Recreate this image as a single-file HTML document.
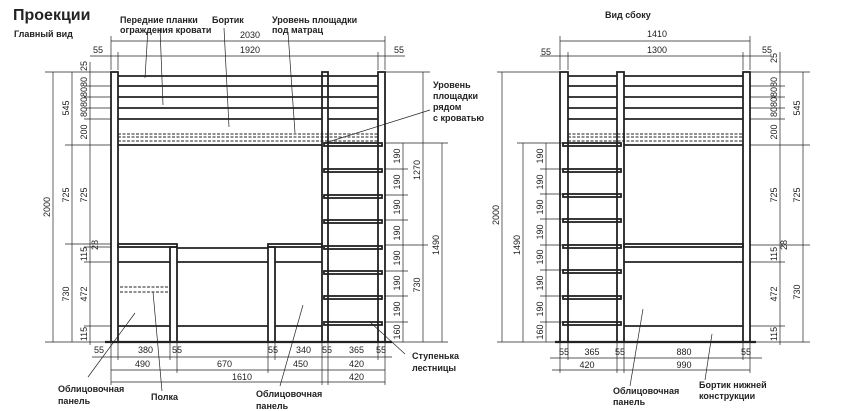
<!DOCTYPE html>
<html><head><meta charset="utf-8"><style>
html,body{margin:0;padding:0;background:#fff;width:850px;height:411px;overflow:hidden}
svg{display:block}
.l{font-family:"Liberation Sans","DejaVu Sans",sans-serif;font-weight:bold;font-size:9px;fill:#222}
.d{font-family:"Liberation Sans",sans-serif;font-size:9px;fill:#222}
</style></head><body>
<svg width="850" height="411" viewBox="0 0 850 411" xmlns="http://www.w3.org/2000/svg">
<g stroke="#222" fill="none">
<!-- ===== FRONT VIEW ===== -->
<g stroke-width="1.8">
<rect x="111" y="72" width="7" height="270"/>
<rect x="322" y="72" width="6" height="270"/>
<rect x="378" y="72" width="7" height="270"/>
<line x1="118" y1="76" x2="378" y2="76"/><line x1="118" y1="86" x2="378" y2="86"/>
<line x1="118" y1="97" x2="378" y2="97"/><line x1="118" y1="108" x2="378" y2="108"/>
<line x1="118" y1="119" x2="322" y2="119"/><line x1="328" y1="119" x2="378" y2="119"/>
<line x1="118" y1="145" x2="322" y2="145"/>
<line x1="105" y1="342" x2="392" y2="342" stroke-width="2.2"/>
<rect x="118" y="244" width="59" height="3"/>
<rect x="170" y="247" width="7" height="95"/>
<rect x="268" y="244" width="54" height="3"/>
<rect x="268" y="247" width="7" height="95"/>
<line x1="118" y1="262" x2="170" y2="262"/>
<line x1="177" y1="248" x2="268" y2="248"/><line x1="177" y1="262" x2="268" y2="262"/>
<line x1="275" y1="262" x2="322" y2="262"/>
<line x1="118" y1="326" x2="170" y2="326"/><line x1="177" y1="326" x2="268" y2="326"/><line x1="275" y1="326" x2="322" y2="326"/>
<rect x="324" y="143" width="58" height="3"/><rect x="324" y="169" width="58" height="3"/>
<rect x="324" y="195" width="58" height="3"/><rect x="324" y="220" width="58" height="3"/>
<rect x="324" y="246" width="58" height="3"/><rect x="324" y="271" width="58" height="3"/>
<rect x="324" y="296" width="58" height="3"/><rect x="324" y="322" width="58" height="3"/>
</g>
<g stroke-width="0.9" stroke-dasharray="3,1.5">
<line x1="118" y1="134" x2="378" y2="134"/><line x1="118" y1="137" x2="378" y2="137"/>
<line x1="118" y1="141" x2="378" y2="141"/>
<line x1="120" y1="287" x2="168" y2="287"/><line x1="120" y1="292" x2="168" y2="292"/>
</g>
<g stroke-width="0.7">
<line x1="111" y1="41" x2="385" y2="41"/><line x1="111" y1="36" x2="111" y2="70"/><line x1="385" y1="36" x2="385" y2="70"/>
<line x1="90" y1="56" x2="405" y2="56"/><line x1="118" y1="52" x2="118" y2="70"/><line x1="378" y1="52" x2="378" y2="70"/>
<line x1="45" y1="72" x2="111" y2="72"/><line x1="45" y1="342" x2="111" y2="342"/>
<line x1="53" y1="72" x2="53" y2="342"/>
<line x1="72" y1="72" x2="72" y2="342"/>
<line x1="90" y1="62" x2="90" y2="345"/>
<line x1="65" y1="145" x2="111" y2="145"/><line x1="65" y1="244" x2="111" y2="244"/>
<line x1="84" y1="86" x2="111" y2="86"/><line x1="84" y1="97" x2="111" y2="97"/><line x1="84" y1="108" x2="111" y2="108"/><line x1="84" y1="119" x2="111" y2="119"/>
<line x1="84" y1="247" x2="111" y2="247"/><line x1="84" y1="262" x2="111" y2="262"/><line x1="84" y1="326" x2="111" y2="326"/>
<line x1="403" y1="143" x2="403" y2="342"/>
<line x1="423" y1="72" x2="423" y2="342"/>
<line x1="442" y1="143" x2="442" y2="342"/>
<line x1="385" y1="72" x2="430" y2="72"/><line x1="385" y1="143" x2="448" y2="143"/><line x1="385" y1="342" x2="448" y2="342"/><line x1="385" y1="245" x2="428" y2="245"/>
<line x1="385" y1="169" x2="408" y2="169"/><line x1="385" y1="195" x2="408" y2="195"/><line x1="385" y1="220" x2="408" y2="220"/><line x1="385" y1="271" x2="408" y2="271"/><line x1="385" y1="296" x2="408" y2="296"/><line x1="385" y1="322" x2="408" y2="322"/>
<line x1="92" y1="357" x2="392" y2="357"/>
<line x1="111" y1="370" x2="385" y2="370"/>
<line x1="111" y1="382" x2="385" y2="382"/>
<line x1="111" y1="342" x2="111" y2="385"/><line x1="118" y1="342" x2="118" y2="360"/><line x1="170" y1="342" x2="170" y2="360"/><line x1="177" y1="342" x2="177" y2="373"/>
<line x1="268" y1="342" x2="268" y2="373"/><line x1="275" y1="342" x2="275" y2="360"/><line x1="322" y1="342" x2="322" y2="385"/><line x1="328" y1="342" x2="328" y2="385"/><line x1="378" y1="342" x2="378" y2="360"/><line x1="385" y1="342" x2="385" y2="385"/>
<line x1="148" y1="28" x2="145" y2="78"/><line x1="160" y1="28" x2="163" y2="105"/>
<line x1="224" y1="28" x2="229" y2="127"/><line x1="288" y1="32" x2="295" y2="133"/>
<line x1="430" y1="110" x2="325" y2="143"/>
<line x1="405" y1="354" x2="370" y2="322"/>
<line x1="88" y1="377" x2="135" y2="313"/>
<line x1="162" y1="391" x2="153" y2="292"/>
<line x1="280" y1="386" x2="303" y2="305"/>
</g>
<!-- ===== SIDE VIEW ===== -->
<g stroke-width="1.8">
<rect x="560" y="72" width="8" height="270"/>
<rect x="617" y="72" width="7" height="270"/>
<rect x="743" y="72" width="7" height="270"/>
<line x1="568" y1="76" x2="617" y2="76"/><line x1="624" y1="76" x2="743" y2="76"/>
<line x1="568" y1="86" x2="617" y2="86"/><line x1="624" y1="86" x2="743" y2="86"/>
<line x1="568" y1="97" x2="617" y2="97"/><line x1="624" y1="97" x2="743" y2="97"/>
<line x1="568" y1="108" x2="617" y2="108"/><line x1="624" y1="108" x2="743" y2="108"/>
<line x1="568" y1="119" x2="617" y2="119"/><line x1="624" y1="119" x2="743" y2="119"/>
<line x1="624" y1="145" x2="743" y2="145"/>
<rect x="624" y="244" width="119" height="3"/>
<line x1="624" y1="262" x2="743" y2="262"/>
<line x1="624" y1="326" x2="743" y2="326"/>
<line x1="555" y1="342" x2="756" y2="342" stroke-width="2.2"/>
<rect x="563" y="143" width="58" height="3"/><rect x="563" y="169" width="58" height="3"/>
<rect x="563" y="194" width="58" height="3"/><rect x="563" y="219" width="58" height="3"/>
<rect x="563" y="245" width="58" height="3"/><rect x="563" y="270" width="58" height="3"/>
<rect x="563" y="296" width="58" height="3"/><rect x="563" y="322" width="58" height="3"/>
</g>
<g stroke-width="0.9" stroke-dasharray="3,1.5">
<line x1="568" y1="134" x2="743" y2="134"/><line x1="568" y1="137" x2="743" y2="137"/><line x1="568" y1="141" x2="743" y2="141"/>
</g>
<g stroke-width="0.7">
<line x1="560" y1="41" x2="750" y2="41"/><line x1="560" y1="36" x2="560" y2="70"/><line x1="750" y1="36" x2="750" y2="70"/>
<line x1="540" y1="56" x2="770" y2="56"/><line x1="568" y1="52" x2="568" y2="70"/><line x1="743" y1="52" x2="743" y2="70"/>
<line x1="497" y1="72" x2="560" y2="72"/><line x1="497" y1="342" x2="560" y2="342"/><line x1="517" y1="143" x2="563" y2="143"/>
<line x1="502" y1="72" x2="502" y2="342"/><line x1="523" y1="143" x2="523" y2="342"/><line x1="546" y1="143" x2="546" y2="342"/>
<line x1="540" y1="169" x2="563" y2="169"/><line x1="540" y1="194" x2="563" y2="194"/><line x1="540" y1="219" x2="563" y2="219"/><line x1="540" y1="245" x2="563" y2="245"/><line x1="540" y1="270" x2="563" y2="270"/><line x1="540" y1="296" x2="563" y2="296"/><line x1="540" y1="322" x2="563" y2="322"/>
<line x1="750" y1="72" x2="810" y2="72"/><line x1="750" y1="145" x2="810" y2="145"/><line x1="750" y1="245" x2="810" y2="245"/><line x1="750" y1="342" x2="810" y2="342"/>
<line x1="750" y1="86" x2="785" y2="86"/><line x1="750" y1="97" x2="785" y2="97"/><line x1="750" y1="108" x2="785" y2="108"/><line x1="750" y1="119" x2="785" y2="119"/><line x1="750" y1="262" x2="785" y2="262"/><line x1="750" y1="326" x2="785" y2="326"/>
<line x1="780" y1="52" x2="780" y2="345"/><line x1="803" y1="72" x2="803" y2="342"/>
<line x1="550" y1="358" x2="762" y2="358"/><line x1="552" y1="370" x2="750" y2="370"/>
<line x1="560" y1="342" x2="560" y2="373"/><line x1="568" y1="342" x2="568" y2="360"/><line x1="617" y1="342" x2="617" y2="373"/><line x1="624" y1="342" x2="624" y2="373"/><line x1="743" y1="342" x2="743" y2="360"/><line x1="750" y1="342" x2="750" y2="373"/>
<line x1="630" y1="386" x2="643" y2="309"/>
<line x1="705" y1="380" x2="712" y2="334"/>
</g>
</g>
<text x="13" y="20" class="l" style="font-size:16px">Проекции</text>
<text x="14" y="37" class="l">Главный вид</text>
<text x="120" y="23" class="l">Передние планки</text>
<text x="120" y="33" class="l">ограждения кровати</text>
<text x="212" y="23" class="l">Бортик</text>
<text x="272" y="23" class="l">Уровень площадки</text>
<text x="272" y="33" class="l">под матрац</text>
<text x="433" y="88" class="l">Уровень</text>
<text x="433" y="99" class="l">площадки</text>
<text x="433" y="110" class="l">рядом</text>
<text x="433" y="121" class="l">с кроватью</text>
<text x="412" y="359" class="l">Ступенька</text>
<text x="412" y="371" class="l">лестницы</text>
<text x="58" y="392" class="l">Облицовочная</text>
<text x="58" y="404" class="l">панель</text>
<text x="151" y="400" class="l">Полка</text>
<text x="256" y="397" class="l">Облицовочная</text>
<text x="256" y="409" class="l">панель</text>
<text x="605" y="18" class="l">Вид сбоку</text>
<text x="613" y="394" class="l">Облицовочная</text>
<text x="613" y="405" class="l">панель</text>
<text x="699" y="388" class="l">Бортик нижней</text>
<text x="699" y="399" class="l">конструкции</text>
<g class="d">
<text x="240" y="38">2030</text><text x="240" y="53">1920</text>
<text x="93" y="53">55</text><text x="394" y="53">55</text>
<text x="94" y="353">55</text><text x="138" y="353">380</text><text x="172" y="353">55</text><text x="268" y="353">55</text><text x="296" y="353">340</text><text x="322" y="353">55</text><text x="349" y="353">365</text><text x="376" y="353">55</text>
<text x="135" y="367">490</text><text x="217" y="367">670</text><text x="293" y="367">450</text><text x="349" y="367">420</text>
<text x="232" y="380">1610</text><text x="349" y="380">420</text>
<text x="657" y="37" text-anchor="middle">1410</text><text x="657" y="53" text-anchor="middle">1300</text>
<text x="541" y="55">55</text><text x="762" y="53">55</text>
<text x="564" y="355" text-anchor="middle">55</text><text x="592" y="355" text-anchor="middle">365</text><text x="620" y="355" text-anchor="middle">55</text><text x="684" y="355" text-anchor="middle">880</text><text x="746" y="355" text-anchor="middle">55</text>
<text x="587" y="368" text-anchor="middle">420</text><text x="684" y="368" text-anchor="middle">990</text>
</g>
<g class="d" text-anchor="middle">
<text transform="translate(50,207) rotate(-90)">2000</text>
<text transform="translate(69,108) rotate(-90)">545</text>
<text transform="translate(69,195) rotate(-90)">725</text>
<text transform="translate(69,294) rotate(-90)">730</text>
<text transform="translate(87,66) rotate(-90)">25</text>
<text transform="translate(87,97) rotate(-90)">80808080</text>
<text transform="translate(87,132) rotate(-90)">200</text>
<text transform="translate(87,195) rotate(-90)">725</text>
<text transform="translate(87,254) rotate(-90)">115</text>
<text transform="translate(98,245) rotate(-90)">28</text>
<text transform="translate(87,294) rotate(-90)">472</text>
<text transform="translate(87,334) rotate(-90)">115</text>
<text transform="translate(400,156) rotate(-90)">190</text><text transform="translate(400,182) rotate(-90)">190</text><text transform="translate(400,207) rotate(-90)">190</text><text transform="translate(400,233) rotate(-90)">190</text><text transform="translate(400,258) rotate(-90)">190</text><text transform="translate(400,283) rotate(-90)">190</text><text transform="translate(400,309) rotate(-90)">190</text><text transform="translate(400,332) rotate(-90)">160</text>
<text transform="translate(420,170) rotate(-90)">1270</text>
<text transform="translate(420,285) rotate(-90)">730</text>
<text transform="translate(439,245) rotate(-90)">1490</text>
<text transform="translate(499,215) rotate(-90)">2000</text>
<text transform="translate(520,245) rotate(-90)">1490</text>
<text transform="translate(543,156) rotate(-90)">190</text><text transform="translate(543,182) rotate(-90)">190</text><text transform="translate(543,207) rotate(-90)">190</text><text transform="translate(543,232) rotate(-90)">190</text><text transform="translate(543,257) rotate(-90)">190</text><text transform="translate(543,283) rotate(-90)">190</text><text transform="translate(543,309) rotate(-90)">190</text><text transform="translate(543,332) rotate(-90)">160</text>
<text transform="translate(777,58) rotate(-90)">25</text>
<text transform="translate(777,97) rotate(-90)">80808080</text>
<text transform="translate(777,132) rotate(-90)">200</text>
<text transform="translate(777,195) rotate(-90)">725</text>
<text transform="translate(777,254) rotate(-90)">115</text>
<text transform="translate(787,245) rotate(-90)">28</text>
<text transform="translate(777,294) rotate(-90)">472</text>
<text transform="translate(777,334) rotate(-90)">115</text>
<text transform="translate(800,108) rotate(-90)">545</text>
<text transform="translate(800,195) rotate(-90)">725</text>
<text transform="translate(800,292) rotate(-90)">730</text>
</g>
</svg>
</body></html>
